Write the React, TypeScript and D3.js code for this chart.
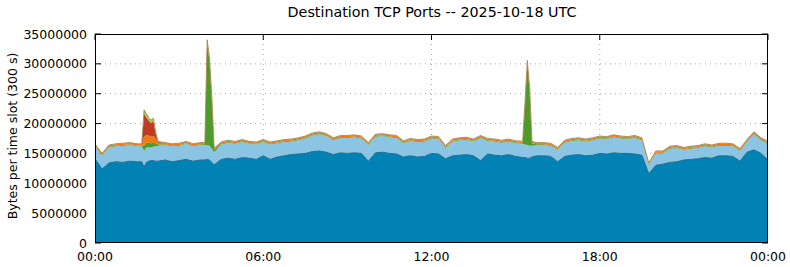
import React from "react";
import * as d3 from "d3";

// time of each slot, minutes after 00:00 UTC
const times = [
  0, 15, 30, 45, 60, 75, 90,
  100, 105, 110, 115, 120, 125, 130, 135,
  150, 165, 180, 195, 210, 225,
  235, 240, 245, 250, 255,
  270, 285, 300, 315, 330, 345, 360, 375, 390, 405, 420, 435, 450, 465, 480, 495, 510, 525, 540, 555, 570, 585,
  600, 615, 630, 645, 660, 675, 690, 705, 720, 735, 750, 765, 780, 795, 810, 825, 840, 855, 870, 885, 900,
  915, 920, 925, 930, 935,
  945, 960, 975, 990, 1005, 1020, 1035, 1050, 1065, 1080, 1095, 1110, 1125, 1140, 1155, 1170, 1185,
  1200, 1215, 1230, 1245, 1260, 1275, 1290, 1305, 1320, 1335, 1350, 1365, 1380, 1395, 1410, 1425, 1440,
];

// values in millions of bytes per 300 s slot
const port443 = [
  14.1, 12.4, 13.4, 13.6, 13.5, 13.7, 13.6,
  13.6, 12.7, 13.5, 13.7, 13.8, 13.8, 13.7, 13.7,
  13.9, 13.6, 13.8, 14.0, 13.7, 13.9,
  13.9, 14.0, 13.9, 13.5, 13.1,
  14.0, 14.2, 14.0, 14.3, 14.2, 14.0, 14.6, 14.0, 14.4, 14.6, 14.8, 14.9, 15.0, 15.3, 15.4, 15.2, 14.8, 15.1, 15.0, 15.1, 15.0, 13.7,
  15.1, 15.2, 15.0, 14.9, 14.4, 14.6, 14.4, 14.5, 15.0, 14.9, 14.1, 14.6, 14.7, 14.8, 14.6, 13.8, 14.9, 14.7, 14.6, 14.8, 14.5,
  14.3, 14.3, 14.2, 14.2, 14.4,
  14.6, 14.6, 14.5, 13.6, 14.5, 14.7, 14.8, 14.6, 14.7, 15.0, 14.9, 15.1, 15.0, 15.0, 14.9, 14.7, 11.6,
  13.0, 13.2, 13.5, 13.6, 13.9, 14.0, 14.1, 14.3, 14.2, 14.6, 14.6, 14.5, 13.7, 15.2, 15.6, 15.0, 13.9,
];

const port80 = [
  2.1, 2.2, 2.6, 2.6, 2.8, 2.7, 2.6,
  2.6, 2.7, 2.5, 2.3, 2.2, 2.3, 2.5, 2.6,
  2.5, 2.6, 2.5, 2.6, 2.5, 2.5,
  2.5, 2.4, 2.4, 2.3, 2.1,
  2.5, 2.6, 2.6, 2.6, 2.4, 2.5, 2.3, 2.5, 2.3, 2.3, 2.2, 2.3, 2.5, 2.7, 2.8, 2.7, 2.4, 2.5, 2.6, 2.6, 2.5, 2.7,
  2.7, 2.7, 2.7, 2.7, 2.3, 2.5, 2.5, 2.5, 2.5, 2.5, 1.8, 2.4, 2.5, 2.5, 2.4, 3.8, 2.2, 2.3, 2.2, 2.2, 2.2,
  2.3, 2.2, 2.2, 2.1, 1.9,
  1.8, 1.8, 1.8, 2.0, 2.3, 2.4, 2.4, 2.4, 2.5, 2.5, 2.5, 2.6, 2.5, 2.4, 2.7, 2.5, 1.4,
  2.0, 1.8, 2.3, 2.3, 1.7, 1.8, 1.8, 1.9, 1.8, 1.7, 1.7, 1.7, 1.7, 1.7, 2.6, 2.2, 2.7,
];

const portGreen = [
  0.12, 0.12, 0.12, 0.12, 0.12, 0.12, 0.12,
  0.12, 0.9, 0.8, 0.8, 0.7, 0.7, 0.5, 0.2,
  0.12, 0.12, 0.12, 0.12, 0.12, 0.12,
  0.15, 17.1, 14.2, 8.2, 0.4,
  0.12, 0.12, 0.12, 0.12, 0.12, 0.12, 0.12, 0.12, 0.12, 0.12, 0.12, 0.12, 0.12, 0.12, 0.12, 0.12, 0.12, 0.12, 0.12, 0.12, 0.12, 0.12,
  0.12, 0.12, 0.12, 0.12, 0.12, 0.12, 0.12, 0.12, 0.12, 0.12, 0.12, 0.12, 0.12, 0.12, 0.12, 0.12, 0.12, 0.12, 0.12, 0.12, 0.12,
  0.15, 6.5, 13.7, 9.2, 0.4,
  0.12, 0.12, 0.12, 0.12, 0.12, 0.12, 0.12, 0.12, 0.12, 0.12, 0.12, 0.12, 0.12, 0.12, 0.12, 0.12, 0.12,
  0.12, 0.12, 0.12, 0.12, 0.12, 0.12, 0.12, 0.12, 0.12, 0.12, 0.12, 0.12, 0.12, 0.12, 0.12, 0.12, 0.12,
];

const portOrange = [
  0.2, 0.2, 0.2, 0.2, 0.2, 0.2, 0.2,
  0.2, 1.5, 1.3, 1.2, 1.1, 1.1, 0.8, 0.3,
  0.2, 0.2, 0.2, 0.2, 0.2, 0.2,
  0.2, 0.3, 0.3, 0.3, 0.2,
  0.2, 0.2, 0.2, 0.2, 0.2, 0.2, 0.2, 0.2, 0.2, 0.2, 0.2, 0.2, 0.2, 0.2, 0.2, 0.2, 0.2, 0.2, 0.2, 0.2, 0.2, 0.2,
  0.2, 0.2, 0.2, 0.2, 0.2, 0.2, 0.2, 0.2, 0.2, 0.2, 0.2, 0.2, 0.2, 0.2, 0.2, 0.2, 0.2, 0.2, 0.2, 0.2, 0.2,
  0.2, 0.3, 0.3, 0.3, 0.2,
  0.2, 0.2, 0.2, 0.2, 0.2, 0.2, 0.2, 0.2, 0.2, 0.2, 0.2, 0.2, 0.2, 0.2, 0.2, 0.2, 0.2,
  0.2, 0.2, 0.2, 0.2, 0.2, 0.2, 0.2, 0.2, 0.2, 0.2, 0.2, 0.2, 0.2, 0.2, 0.2, 0.2, 0.2,
];

const portRed = [
  0.05, 0.05, 0.05, 0.05, 0.05, 0.05, 0.05,
  0.05, 3.8, 2.9, 2.5, 2.3, 2.5, 0.8, 0.1,
  0.05, 0.05, 0.05, 0.05, 0.05, 0.05,
  0.05, 0.05, 0.05, 0.05, 0.05,
  0.05, 0.05, 0.05, 0.05, 0.05, 0.05, 0.05, 0.05, 0.05, 0.05, 0.05, 0.05, 0.05, 0.05, 0.05, 0.05, 0.05, 0.05, 0.05, 0.05, 0.05, 0.05,
  0.05, 0.05, 0.05, 0.05, 0.05, 0.05, 0.05, 0.05, 0.05, 0.05, 0.05, 0.05, 0.05, 0.05, 0.05, 0.05, 0.05, 0.05, 0.05, 0.05, 0.05,
  0.05, 0.05, 0.05, 0.05, 0.05,
  0.05, 0.05, 0.05, 0.05, 0.05, 0.05, 0.05, 0.05, 0.05, 0.05, 0.05, 0.05, 0.05, 0.05, 0.05, 0.05, 0.05,
  0.05, 0.05, 0.05, 0.05, 0.05, 0.05, 0.05, 0.05, 0.05, 0.05, 0.05, 0.05, 0.05, 0.05, 0.05, 0.05, 0.05,
];

const portLime = [
  0.05, 0.05, 0.05, 0.05, 0.05, 0.05, 0.05,
  0.05, 0.7, 0.6, 0.5, 0.5, 0.5, 0.2, 0.1,
  0.05, 0.05, 0.05, 0.05, 0.05, 0.05,
  0.05, 0.2, 0.15, 0.15, 0.05,
  0.05, 0.05, 0.05, 0.05, 0.05, 0.05, 0.05, 0.05, 0.05, 0.05, 0.05, 0.05, 0.05, 0.05, 0.05, 0.05, 0.05, 0.05, 0.05, 0.05, 0.05, 0.05,
  0.05, 0.05, 0.05, 0.05, 0.05, 0.05, 0.05, 0.05, 0.05, 0.05, 0.05, 0.05, 0.05, 0.05, 0.05, 0.05, 0.05, 0.05, 0.05, 0.05, 0.05,
  0.05, 0.15, 0.15, 0.15, 0.05,
  0.05, 0.05, 0.05, 0.05, 0.05, 0.05, 0.05, 0.05, 0.05, 0.05, 0.05, 0.05, 0.05, 0.05, 0.05, 0.05, 0.05,
  0.05, 0.05, 0.05, 0.05, 0.05, 0.05, 0.05, 0.05, 0.05, 0.05, 0.05, 0.05, 0.05, 0.05, 0.05, 0.05, 0.05,
];

const seriesKeys = ["p443", "p80", "pGreen", "pOrange", "pRed", "pLime"];
const seriesColors = ["#0082b4", "#8cc4e3", "#4e9b2c", "#ee7a12", "#c23a24", "#94d04c"];
const yTicks = [0, 5000000, 10000000, 15000000, 20000000, 25000000, 30000000, 35000000];
const xTicks = [0, 360, 720, 1080, 1440];
const xTickLabels = ["00:00", "06:00", "12:00", "18:00", "00:00"];

export default function App() {
  const W = 790, H = 267;
  const left = 95, right = 768, top = 34, bottom = 243;
  const x = d3.scaleLinear().domain([0, 1440]).range([left, right]);
  const y = d3.scaleLinear().domain([0, 35000000]).range([bottom, top]);

  const table = times.map((t, i) => ({
    t,
    p443: port443[i] * 1e6,
    p80: port80[i] * 1e6,
    pGreen: portGreen[i] * 1e6,
    pOrange: portOrange[i] * 1e6,
    pRed: portRed[i] * 1e6,
    pLime: portLime[i] * 1e6,
  }));
  const stacked = d3.stack<any>().keys(seriesKeys)(table);
  const area = d3
    .area<any>()
    .x((d) => x(d.data.t))
    .y0((d) => y(d[0]))
    .y1((d) => y(d[1]));
  const topLine = d3
    .line<any>()
    .x((d) => x(d.data.t))
    .y((d) => y(d[1]));

  const font = "DejaVu Sans, sans-serif";
  return (
    <svg
      width={W}
      height={H}
      style={{ position: "absolute", left: 0, top: 0, background: "#fff" }}
      fontFamily={font}
    >
      <rect x={0} y={0} width={W} height={H} fill="#fff" />
      {/* grid */}
      {yTicks.slice(1, -1).map((v) => (
        <line key={"gy" + v} x1={left} x2={right} y1={y(v)} y2={y(v)} stroke="#a8a8a8" strokeWidth={1} strokeDasharray="1,4" />
      ))}
      {xTicks.slice(1, -1).map((v) => (
        <line key={"gx" + v} x1={x(v)} x2={x(v)} y1={top} y2={bottom} stroke="#a8a8a8" strokeWidth={1} strokeDasharray="1,4" />
      ))}
      {/* ticks */}
      {yTicks.map((v) => (
        <g key={"ty" + v}>
          <line x1={left} x2={left + 6} y1={y(v)} y2={y(v)} stroke="#000" />
          <line x1={right - 6} x2={right} y1={y(v)} y2={y(v)} stroke="#000" />
        </g>
      ))}
      {xTicks.map((v, i) => (
        <g key={"tx" + i}>
          <line x1={x(v)} x2={x(v)} y1={top} y2={top + 6} stroke="#000" />
        </g>
      ))}
      {/* areas */}
      {stacked.map((s, i) => (
        <path key={s.key} d={area(s) || ""} fill={seriesColors[i]} />
      ))}
      <path d={topLine(stacked[0]) || ""} fill="none" stroke="#1d6c93" strokeWidth={1} />
      <path d={topLine(stacked[stacked.length - 1]) || ""} fill="none" stroke="#a5804e" strokeWidth={0.8} />
      {/* frame */}
      <rect x={left + 0.5} y={top + 0.5} width={right - left - 1} height={bottom - top - 1} fill="none" stroke="#000" strokeWidth={1} />
      {/* tick labels */}
      {yTicks.map((v) => (
        <text key={"ly" + v} x={87} y={y(v)} dy="0.36em" textAnchor="end" fontSize={12.5}>
          {String(v)}
        </text>
      ))}
      {xTicks.map((v, i) => (
        <text key={"lx" + i} x={x(v)} y={261} textAnchor="middle" fontSize={12.5}>
          {xTickLabels[i]}
        </text>
      ))}
      <text x={432} y={17} textAnchor="middle" fontSize={14.3}>
        Destination TCP Ports -- 2025-10-18 UTC
      </text>
      <text transform={`translate(16.5,136) rotate(-90)`} textAnchor="middle" fontSize={12.5}>
        Bytes per time slot (300 s)
      </text>
    </svg>
  );
}
